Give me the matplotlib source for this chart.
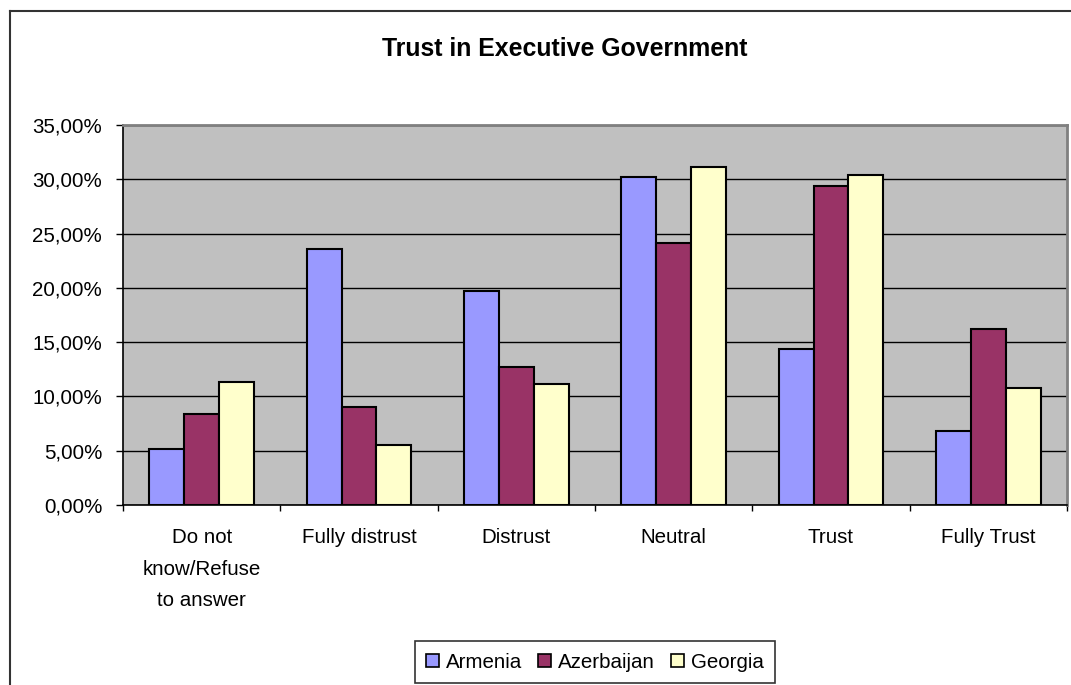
import numpy as np
import matplotlib.pyplot as plt
from matplotlib.patches import Patch
from matplotlib.lines import Line2D
from matplotlib.ticker import FuncFormatter

plt.rcParams['font.family'] = ['Liberation Sans', 'DejaVu Sans']

# Data (percent)
categories = ['Do not\nknow/Refuse\nto answer', 'Fully distrust', 'Distrust',
              'Neutral', 'Trust', 'Fully Trust']
armenia = [5.2, 23.6, 19.75, 30.2, 14.4, 6.85]
azerbaijan = [8.35, 9.05, 12.75, 24.1, 29.4, 16.2]
georgia = [11.3, 5.55, 11.1, 31.15, 30.35, 10.75]
series_names = ['Armenia', 'Azerbaijan', 'Georgia']
colors = ['#9999FF', '#993366', '#FFFFCC']

W, H = 1071, 685
fig = plt.figure(figsize=(W / 100, H / 100), dpi=100)

# plot area in pixel coords
left, right, top, bottom = 123, 1067, 125, 505
ax = fig.add_axes([left / W, 1 - bottom / H, (right - left) / W, (bottom - top) / H])
ax.set_facecolor('#C0C0C0')

x = np.arange(len(categories))
bw = 0.222
for i, (vals, c) in enumerate(zip([armenia, azerbaijan, georgia], colors)):
    ax.bar(x + (i - 1) * bw, vals, width=bw, color=c, edgecolor='black',
           linewidth=1.5, zorder=3)

ax.set_xlim(-0.5, len(categories) - 0.5)
ax.set_ylim(0, 35)
ax.set_yticks(np.arange(0, 36, 5))
ax.yaxis.set_major_formatter(FuncFormatter(lambda v, p: f'{v:.2f}%'.replace('.', ',')))
ax.grid(axis='y', color='black', linewidth=1, zorder=1)
ax.set_axisbelow(True)

ax.set_xticks(x)
ax.set_xticklabels(categories, linespacing=1.85)
ax.set_xticks(np.arange(-0.5, len(categories)), minor=True)
ax.tick_params(axis='x', which='major', length=0, pad=16.5, labelsize=14.8)
ax.tick_params(axis='x', which='minor', length=4, width=1, direction='out')
ax.tick_params(axis='y', length=5, width=1, pad=10, labelsize=14.8)

for s in ['top', 'right']:
    ax.spines[s].set_color('#808080')
    ax.spines[s].set_linewidth(2)
for s in ['left', 'bottom']:
    ax.spines[s].set_color('black')
    ax.spines[s].set_linewidth(1.2)

fig.text(565 / W, 1 - 49 / H, 'Trust in Executive Government', ha='center', va='center',
         fontsize=17.9, fontweight='bold')

handles = [Patch(facecolor=c, edgecolor='black', linewidth=1.2, label=n)
           for c, n in zip(colors, series_names)]
leg = fig.legend(handles=handles, loc='center', bbox_to_anchor=(595 / W, 1 - 662 / H),
                 ncol=3, fontsize=14.8, frameon=True, fancybox=False, edgecolor='black',
                 handlelength=0.6, handleheight=0.6, handletextpad=0.35,
                 columnspacing=0.8, borderpad=0.55, borderaxespad=0)
leg.get_frame().set_linewidth(1.2)

# outer chart border (only top and left visible in the crop)
fig.add_artist(Line2D([10 / W, 10 / W], [0, 1 - 11 / H], color='#333333', linewidth=1.5))
fig.add_artist(Line2D([10 / W, 1], [1 - 11 / H, 1 - 11 / H], color='#333333', linewidth=1.5))

plt.savefig('out.png', dpi=100)
plt.close()
